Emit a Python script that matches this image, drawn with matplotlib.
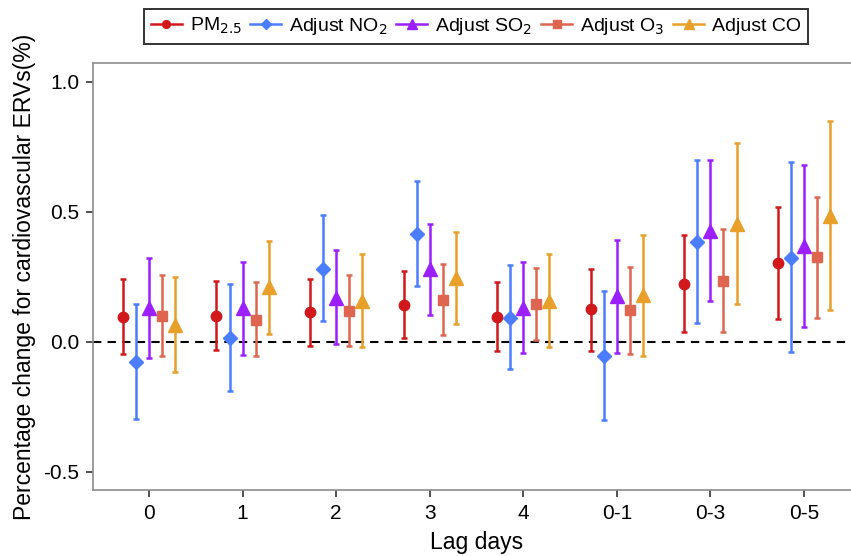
import numpy as np
import matplotlib
matplotlib.use("Agg")
from matplotlib import pyplot as plt
from matplotlib.lines import Line2D

plt.rcParams["font.family"] = ["Liberation Sans", "DejaVu Sans"]

# Lag categories
lags = ["0", "1", "2", "3", "4", "0-1", "0-3", "0-5"]

# Point estimates and 95% CI for each model
pm25 = [0.095, 0.099, 0.115, 0.142, 0.095, 0.124, 0.224, 0.303]
pm25_lo = [-0.049, -0.033, -0.015, 0.013, -0.035, -0.037, 0.038, 0.088]
pm25_hi = [0.243, 0.233, 0.243, 0.271, 0.228, 0.281, 0.412, 0.519]

no2 = [-0.078, 0.016, 0.281, 0.415, 0.092, -0.056, 0.384, 0.324]
no2_lo = [-0.296, -0.189, 0.080, 0.213, -0.107, -0.302, 0.072, -0.039]
no2_hi = [0.144, 0.221, 0.487, 0.617, 0.294, 0.196, 0.698, 0.690]

so2 = [0.130, 0.128, 0.170, 0.278, 0.128, 0.176, 0.427, 0.368]
so2_lo = [-0.063, -0.052, -0.010, 0.101, -0.045, -0.042, 0.157, 0.058]
so2_hi = [0.324, 0.308, 0.352, 0.454, 0.308, 0.390, 0.698, 0.681]

o3 = [0.099, 0.085, 0.117, 0.162, 0.147, 0.121, 0.234, 0.325]
o3_lo = [-0.056, -0.054, -0.017, 0.025, 0.006, -0.048, 0.037, 0.093]
o3_hi = [0.258, 0.228, 0.257, 0.301, 0.284, 0.288, 0.432, 0.557]

co = [0.065, 0.209, 0.158, 0.245, 0.158, 0.179, 0.455, 0.485]
co_lo = [-0.118, 0.029, -0.020, 0.067, -0.020, -0.054, 0.144, 0.121]
co_hi = [0.248, 0.388, 0.339, 0.422, 0.337, 0.410, 0.766, 0.848]

series = [
    ("PM$_{2.5}$", pm25, pm25_lo, pm25_hi, "#D1191C", "o", 7.5),
    ("Adjust NO$_2$", no2, no2_lo, no2_hi, "#4A7DFF", "D", 7.0),
    ("Adjust SO$_2$", so2, so2_lo, so2_hi, "#9B1FFF", "^", 9.5),
    ("Adjust O$_3$", o3, o3_lo, o3_hi, "#DE6650", "s", 7.5),
    ("Adjust CO", co, co_lo, co_hi, "#E8A02A", "^", 9.5),
]

fig_w_px, fig_h_px, dpi = 851, 556, 100
fig = plt.figure(figsize=(fig_w_px / dpi, fig_h_px / dpi), dpi=dpi)

# Axes box in pixels (right edge runs past the picture, as in the reference)
left_px, right_px, top_px, bottom_px = 93, 860, 63, 490
ax = fig.add_axes(
    (
        left_px / fig_w_px,
        (fig_h_px - bottom_px) / fig_h_px,
        (right_px - left_px) / fig_w_px,
        (bottom_px - top_px) / fig_h_px,
    )
)

x = np.arange(len(lags))
dodge = 0.14
handles = []
for i, (label, est, lo, hi, color, marker, ms) in enumerate(series):
    xs = x + (i - 2) * dodge
    est = np.asarray(est)
    yerr = [est - np.asarray(lo), np.asarray(hi) - est]
    ax.errorbar(
        xs,
        est,
        yerr=yerr,
        fmt=marker,
        color=color,
        ecolor=color,
        markersize=ms,
        elinewidth=1.8,
        capsize=2.2,
        capthick=1.8,
        zorder=3,
    )
    # ggplot-style key: horizontal line through the marker
    handles.append(
        Line2D(
            [], [], color=color, marker=marker, linewidth=1.8,
            markersize=ms * 0.75, label=label,
        )
    )

ax.axhline(0, color="black", linestyle=(0, (4, 3)), linewidth=1.5, zorder=1)

ax.set_xlim(-0.6, len(lags) - 1 + 0.6)
ax.set_ylim(-0.571, 1.073)
ax.set_xticks(x)
ax.set_xticklabels(lags)
ax.set_yticks([-0.5, 0.0, 0.5, 1.0])
ax.set_yticklabels(["-0.5", "0.0", "0.5", "1.0"])

ax.tick_params(
    axis="both",
    direction="out",
    length=5,
    width=1.2,
    color="#333333",
    labelsize=15,
    labelcolor="black",
    pad=5,
)

for spine in ax.spines.values():
    spine.set_color("#8c8c8c")
    spine.set_linewidth(1.2)

ax.set_xlabel("Lag days", fontsize=16.5, labelpad=6)
ax.set_ylabel(
    "Percentage change for cardiovascular ERVs(%)", fontsize=16.5, labelpad=5
)

leg = fig.legend(
    handles=handles,
    loc="center",
    bbox_to_anchor=(476 / fig_w_px, 1 - 26.5 / fig_h_px),
    ncol=5,
    fontsize=14,
    frameon=True,
    fancybox=False,
    edgecolor="black",
    handlelength=1.6,
    handletextpad=0.4,
    columnspacing=0.45,
    borderpad=0.35,
    borderaxespad=0,
)
leg.get_frame().set_linewidth(1.4)

fig.savefig("out.png", dpi=dpi)
